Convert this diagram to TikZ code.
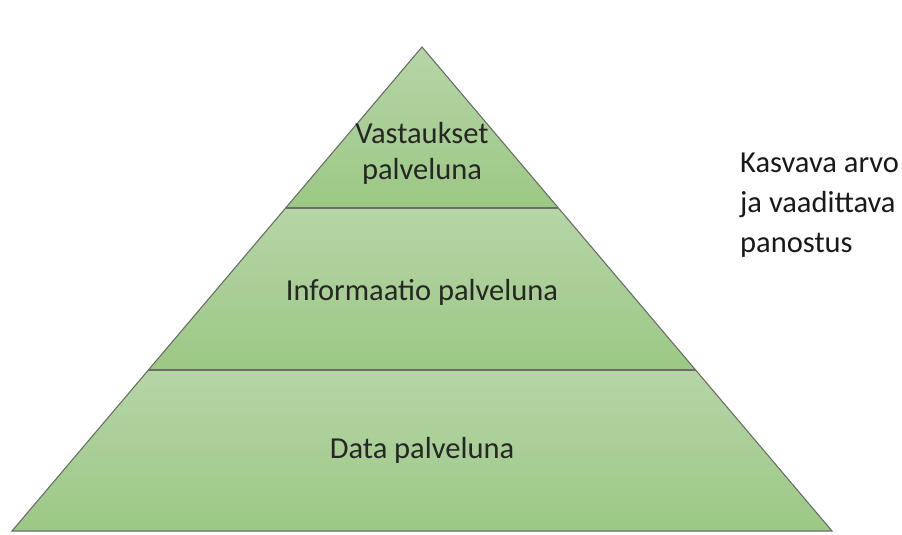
\documentclass[tikz,border=0pt]{standalone}
\usepackage{fontspec}
\setmainfont{Carlito}
\definecolor{gtop}{HTML}{B5D5A6}
\definecolor{gbot}{HTML}{9CC885}
\definecolor{edge}{HTML}{6A6F68}
\begin{document}
\begin{tikzpicture}[x=1pt,y=-1pt,
  band/.style={top color=gtop,bottom color=gbot},
  edgeline/.style={draw=edge,line width=1.1pt,line join=miter},
  lbl/.style={font=\fontsize{30.5}{36}\selectfont,text=black!85,align=center,inner sep=0pt},
  side/.style={font=\fontsize{30.5}{40}\selectfont,text=black!90,align=left,anchor=north west,inner sep=0pt}]
\useasboundingbox (0,0) rectangle (902,535);
\coordinate (A) at (422,47);
\coordinate (L1) at (285.6,208);
\coordinate (R1) at (558.4,208);
\coordinate (L2) at (148.4,370);
\coordinate (R2) at (695.6,370);
\coordinate (L3) at (12,531);
\coordinate (R3) at (832,531);
\shade[band] (A) -- (R1) -- (L1) -- cycle;
\shade[band] (L1) -- (R1) -- (R2) -- (L2) -- cycle;
\shade[band] (L2) -- (R2) -- (R3) -- (L3) -- cycle;
\draw[edgeline] (A) -- (R3) -- (L3) -- cycle;
\draw[edgeline] (L1) -- (R1);
\draw[edgeline] (L2) -- (R2);
\node[lbl] (top) at (422,153) {Vastaukset\\palveluna};
\node[lbl] (mid) at (422,292) {Informaatio palveluna};
\node[lbl] (bot) at (422,450) {Data palveluna};
\node[side] (val) at (740,153) {Kasvava arvo\\ja vaadittava\\panostus};
\end{tikzpicture}
\end{document}
